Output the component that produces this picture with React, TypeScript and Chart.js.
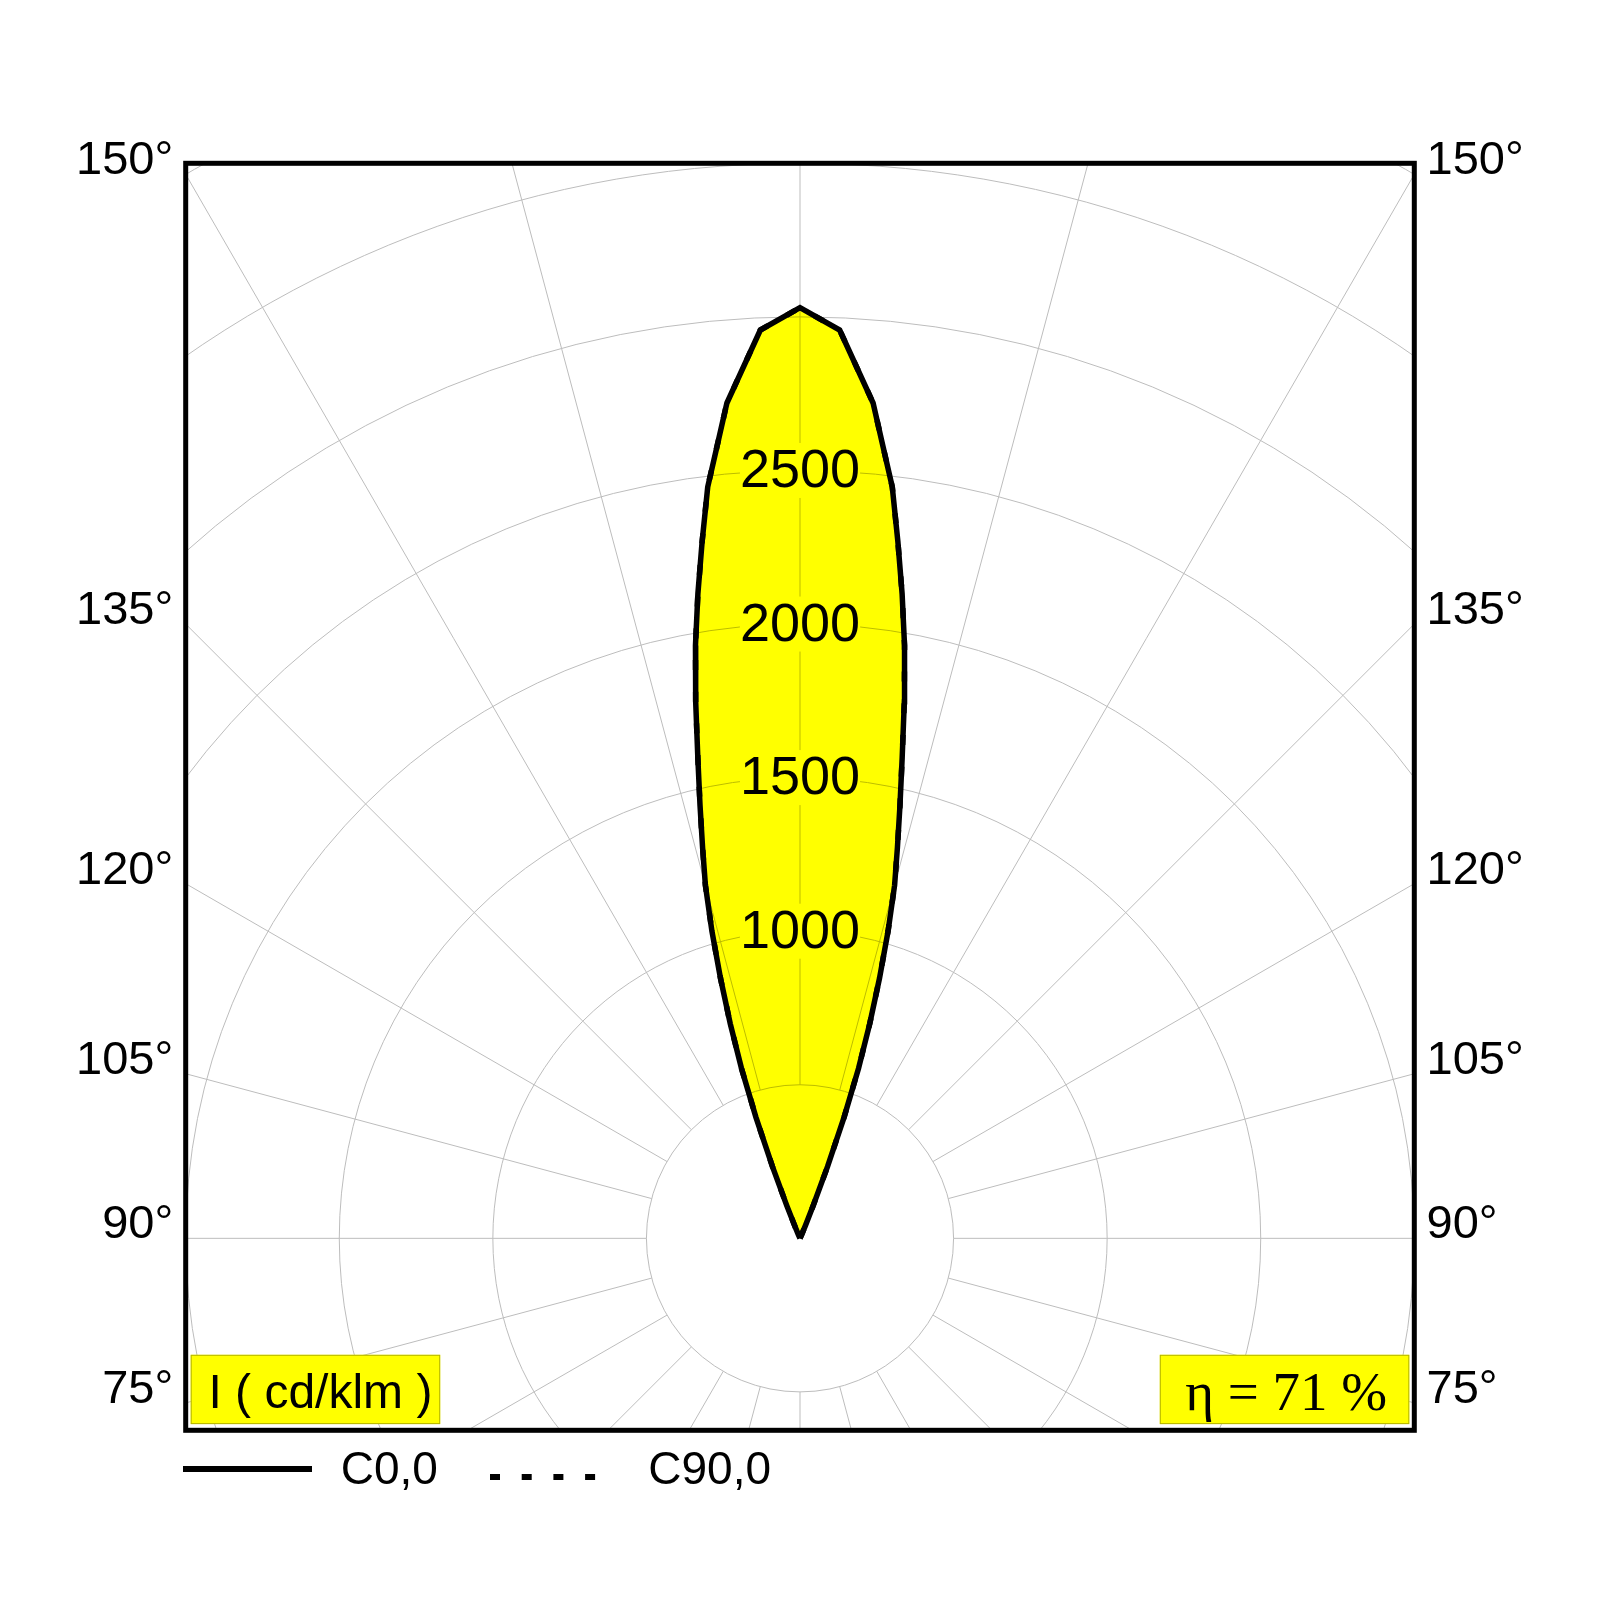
import { useEffect, useRef } from 'react'
import { Chart, registerables } from 'chart.js'

Chart.register(...registerables)

// gamma angle (deg) and luminous intensity (cd/klm)
const gammaAngles = [180, 177.5, 175, 174, 173, 172, 171, 170, 169, 168, 167, 166, 165, 164, 163, 162, 161, 160, 159, 158, 157, 156, 155, 150]
const c0Values = [3030, 2960, 2730, 2590, 2465, 2290, 2125, 1960, 1780, 1600, 1447, 1311, 1190, 1040, 885, 735, 585, 420, 250, 115, 45, 15, 0, 0]
const c90Values = [3030, 2960, 2730, 2590, 2465, 2290, 2125, 1960, 1780, 1600, 1447, 1311, 1190, 1040, 885, 735, 585, 420, 250, 115, 45, 15, 0, 0]

const ringValues = [500, 1000, 1500, 2000, 2500, 3000, 3500, 4000]
const ringLabelValues = [1000, 1500, 2000, 2500]
const spokeAngles = [0, 15, 30, 45, 60, 75, 90, 105, 120, 135, 150, 165, 180, 195, 210, 225, 240, 255, 270, 285, 300, 315, 330, 345]
const sideAngleLabels = [75, 90, 105, 120, 135, 150]
const unitLabel = 'I ( cd/klm )'
const efficiencyLabel = 'η = 71 %'

const SANS = '"Liberation Sans", Arial, sans-serif'
const SERIF = '"Liberation Serif", "Times New Roman", serif'
const rad = (d: number) => (d * Math.PI) / 180

// right half = C0, left half = C180 (mirror), closed at the centre
function toPoints(values: number[]) {
  const right = gammaAngles
    .map((g, i) => ({ x: values[i] * Math.sin(rad(g)), y: -values[i] * Math.cos(rad(g)) }))
    .reverse()
  const left = gammaAngles
    .slice(1)
    .map((g, i) => ({ x: -values[i + 1] * Math.sin(rad(g)), y: -values[i + 1] * Math.cos(rad(g)) }))
  return [...right, ...left]
}

const polarGrid = {
  id: 'polarGrid',
  beforeDatasetsDraw(chart: any) {
    const ctx = chart.ctx
    const { left, top, right, bottom } = chart.chartArea
    const xs = chart.scales.x
    const ys = chart.scales.y
    const cx = xs.getPixelForValue(0)
    const cy = ys.getPixelForValue(0)
    const k = (xs.getPixelForValue(1000) - cx) / 1000

    ctx.save()
    ctx.fillStyle = '#ffffff'
    ctx.fillRect(left, top, right - left, bottom - top)
    ctx.beginPath()
    ctx.rect(left, top, right - left, bottom - top)
    ctx.clip()

    ctx.strokeStyle = '#bdbdbd'
    ctx.lineWidth = 1
    ringValues.forEach((v) => {
      ctx.beginPath()
      ctx.arc(cx, cy, v * k, 0, Math.PI * 2)
      ctx.stroke()
    })
    const r0 = ringValues[0] * k
    const r1 = 6000 * k
    spokeAngles.forEach((a) => {
      const dx = Math.sin(rad(a))
      const dy = -Math.cos(rad(a))
      ctx.beginPath()
      ctx.moveTo(cx + dx * r0, cy - dy * r0)
      ctx.lineTo(cx + dx * r1, cy - dy * r1)
      ctx.stroke()
    })

    // white masks behind the ring labels
    ctx.font = `54px ${SANS}`
    ctx.fillStyle = '#ffffff'
    ringLabelValues.forEach((v) => {
      const w = ctx.measureText(String(v)).width
      const y = cy - v * k
      ctx.fillRect(cx - w / 2, y - 27.5, w, 55)
    })
    ctx.restore()
    ctx.globalCompositeOperation = 'multiply'
  },
  afterDatasetsDraw(chart: any) {
    const ctx = chart.ctx
    ctx.globalCompositeOperation = 'source-over'
    const { left, top, right, bottom } = chart.chartArea
    const xs = chart.scales.x
    const ys = chart.scales.y
    const cx = xs.getPixelForValue(0)
    const cy = ys.getPixelForValue(0)
    const k = (xs.getPixelForValue(1000) - cx) / 1000

    ctx.save()
    ctx.fillStyle = '#000000'
    ctx.textBaseline = 'alphabetic'

    // ring labels
    ctx.font = `54px ${SANS}`
    ctx.textAlign = 'center'
    ringLabelValues.forEach((v) => {
      ctx.fillText(String(v), cx, cy - v * k + 16.6)
    })

    // frame
    ctx.strokeStyle = '#000000'
    ctx.lineWidth = 5
    ctx.strokeRect(left, top, right - left, bottom - top)

    // gamma labels where the spokes meet the frame
    ctx.font = `47px ${SANS}`
    sideAngleLabels.forEach((a) => {
      const y = cy + (cx - left) / Math.tan(rad(a))
      ctx.textAlign = 'right'
      ctx.fillText(`${a}°`, left - 12.4, y)
      ctx.textAlign = 'left'
      ctx.fillText(`${a}°`, right + 12.2, y)
    })

    // unit and efficiency boxes
    const boxTop = bottom - 75.5
    const boxH = 69.3
    const boxW = 249.5
    ctx.fillStyle = '#ffff00'
    ctx.strokeStyle = '#b4b400'
    ctx.lineWidth = 1
    ctx.fillRect(left + 5, boxTop, boxW, boxH)
    ctx.strokeRect(left + 5.5, boxTop + 0.5, boxW - 1, boxH - 1)
    ctx.fillRect(right - 5 - boxW, boxTop, boxW, boxH)
    ctx.strokeRect(right - 4.5 - boxW, boxTop + 0.5, boxW - 1, boxH - 1)

    ctx.fillStyle = '#000000'
    ctx.textAlign = 'left'
    ctx.font = `48px ${SANS}`
    ctx.fillText(unitLabel, left + 22.7, boxTop + 53.3)
    ctx.font = `55px ${SERIF}`
    ctx.fillText(efficiencyLabel, right - 229, boxTop + 55)

    // legend
    const ds = chart.data.datasets
    ctx.strokeStyle = '#000000'
    ctx.lineWidth = 6
    ctx.lineCap = 'butt'
    ctx.beginPath()
    ctx.moveTo(183, 1469)
    ctx.lineTo(312, 1469)
    ctx.stroke()
    ctx.setLineDash([10, 21.7])
    ctx.beginPath()
    ctx.moveTo(490, 1477)
    ctx.lineTo(597, 1477)
    ctx.stroke()
    ctx.setLineDash([])
    ctx.font = `46px ${SANS}`
    ctx.fillText(ds[0].label, 340.7, 1484)
    ctx.fillText(ds[1].label, 648.3, 1484)
    ctx.restore()
  },
}

export default function App() {
  const canvasRef = useRef<HTMLCanvasElement>(null)
  const chartRef = useRef<Chart | null>(null)

  useEffect(() => {
    if (!canvasRef.current) return
    if (chartRef.current) chartRef.current.destroy()
    const ctx = canvasRef.current.getContext('2d')
    if (!ctx) return

    chartRef.current = new Chart(ctx, {
      type: 'line',
      data: {
        datasets: [
          {
            label: 'C0,0',
            data: toPoints(c0Values),
            borderColor: '#000000',
            borderWidth: 5.5,
            backgroundColor: '#ffff00',
            fill: 'shape',
            pointRadius: 0,
            tension: 0,
            order: 0,
          },
          {
            label: 'C90,0',
            data: toPoints(c90Values),
            borderColor: '#000000',
            borderWidth: 5.5,
            borderDash: [10, 21.7],
            fill: false,
            pointRadius: 0,
            tension: 0,
            order: 1,
          },
        ],
      } as any,
      options: {
        animation: false,
        responsive: true,
        maintainAspectRatio: false,
        events: [],
        layout: { padding: { left: 185.7, top: 163.3, right: 185.7, bottom: 169.7 } },
        scales: {
          x: { type: 'linear', min: -2000, max: 2000, display: false },
          y: { type: 'linear', min: -625, max: 3500, display: false },
        },
        plugins: {
          legend: { display: false },
          tooltip: { enabled: false },
        },
      },
      plugins: [polarGrid],
    })

    return () => {
      if (chartRef.current) {
        chartRef.current.destroy()
        chartRef.current = null
      }
    }
  }, [])

  return (
    <div style={{ position: 'absolute', left: 0, top: 0, width: 1600, height: 1600, background: '#ffffff' }}>
      <canvas ref={canvasRef} />
    </div>
  )
}
